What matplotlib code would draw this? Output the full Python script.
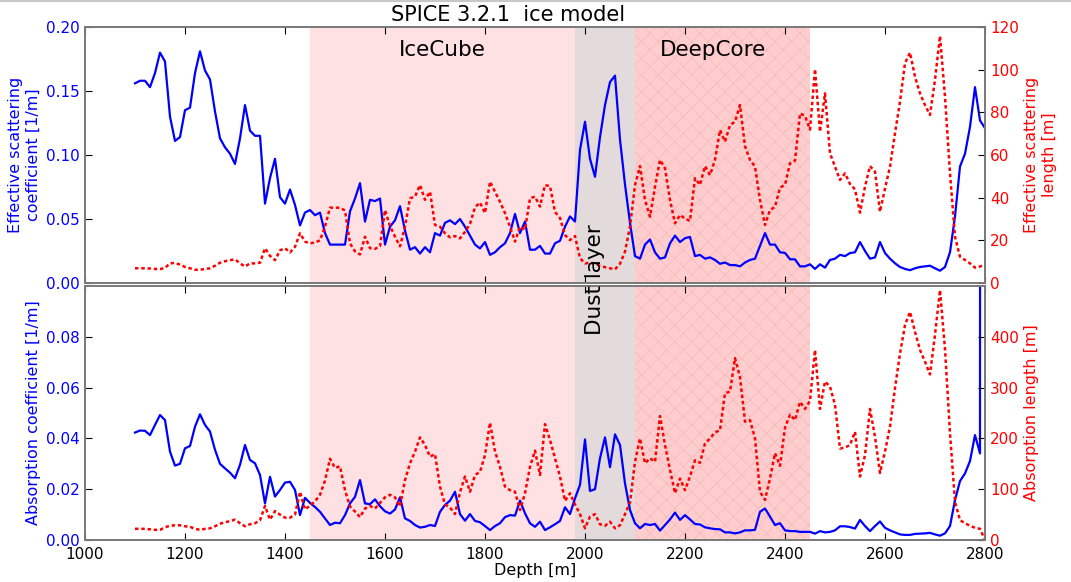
import matplotlib
matplotlib.use("Agg")
import matplotlib.pyplot as plt

# depth grid [m]
depth = list(range(1100, 2810, 10))

# effective scattering coefficient [1/m] (top, blue)
scat_coef = [
    0.156, 0.158, 0.158, 0.153, 0.164, 0.180, 0.173, 0.130, 0.111, 0.114,
    0.135, 0.137, 0.164, 0.181, 0.166, 0.159, 0.134, 0.113, 0.106, 0.101,
    0.093, 0.113, 0.139, 0.119, 0.115, 0.115, 0.062, 0.082, 0.097, 0.067,
    0.062, 0.073, 0.061, 0.045, 0.055, 0.057, 0.053, 0.055, 0.039, 0.030,
    0.030, 0.030, 0.030, 0.056, 0.066, 0.078, 0.048, 0.065, 0.064, 0.066,
    0.030, 0.044, 0.049, 0.060, 0.041, 0.026, 0.028, 0.023, 0.028, 0.024,
    0.039, 0.037, 0.047, 0.049, 0.046, 0.050, 0.044, 0.037, 0.030, 0.027,
    0.032, 0.022, 0.024, 0.028, 0.031, 0.039, 0.054, 0.039, 0.048, 0.026,
    0.026, 0.029, 0.023, 0.023, 0.031, 0.033, 0.044, 0.052, 0.048, 0.104,
    0.126, 0.097, 0.083, 0.114, 0.139, 0.157, 0.162, 0.112, 0.077, 0.047,
    0.021, 0.019, 0.030, 0.034, 0.024, 0.019, 0.020, 0.031, 0.037, 0.032,
    0.035, 0.036, 0.021, 0.022, 0.019, 0.020, 0.018, 0.015, 0.016, 0.014,
    0.014, 0.013, 0.016, 0.018, 0.019, 0.029, 0.039, 0.030, 0.030, 0.024,
    0.0235, 0.0185, 0.0185, 0.013, 0.013, 0.0146, 0.011, 0.0146, 0.012, 0.018,
    0.019, 0.022, 0.021, 0.0234, 0.024, 0.032, 0.025, 0.019, 0.020, 0.032,
    0.0234, 0.019, 0.0154, 0.0125, 0.011, 0.010, 0.0115, 0.0125, 0.013, 0.0135,
    0.0115, 0.0096, 0.0125, 0.024, 0.052, 0.091, 0.101, 0.122, 0.153, 0.127,
    0.121,
]

# effective scattering length [m] (top, red)
scat_len = [
    6.9, 6.9, 6.9, 6.8, 6.6, 6.5, 7.1, 9.2, 9.4, 8.6,
    7.5, 6.9, 6.2, 6.2, 6.6, 6.9, 8.1, 9.5, 10.2, 10.7,
    11.1, 9.2, 7.7, 9.2, 9.2, 9.5, 16.3, 12.7, 10.7, 15.3,
    16.3, 14.3, 17.0, 23.3, 19.4, 18.6, 19.0, 20.0, 26.4, 35.3,
    35.3, 35.3, 34.0, 18.6, 14.8, 13.4, 21.7, 16.3, 16.0, 17.2,
    34.2, 26.7, 21.7, 17.2, 26.4, 39.7, 40.5, 45.9, 39.0, 42.8,
    27.2, 26.4, 23.3, 21.4, 22.0, 20.9, 24.0, 27.7, 35.5, 37.7,
    32.8, 47.5, 42.8, 38.1, 32.8, 26.4, 19.4, 26.4, 25.0, 39.7,
    40.5, 35.8, 45.9, 45.4, 33.3, 30.5, 22.5, 20.1, 22.0, 11.6,
    9.2, 9.5, 9.2, 8.0, 7.4, 6.9, 6.4, 9.0, 14.7, 26.4,
    45.9, 54.8, 38.9, 31.1, 45.1, 57.7, 53.8, 38.9, 28.0, 31.9,
    30.2, 29.1, 49.1, 46.0, 54.8, 50.6, 57.7, 71.7, 66.3, 74.0,
    75.6, 83.4, 64.1, 57.7, 54.6, 38.9, 27.2, 34.2, 35.7, 44.7,
    46.0, 56.1, 57.3, 79.5, 78.3, 71.9, 100.2, 70.9, 88.9, 60.8,
    54.5, 48.3, 51.4, 46.4, 43.9, 33.0, 45.1, 54.8, 52.2, 33.4,
    44.3, 54.5, 70.2, 85.0, 103.0, 108.0, 96.7, 88.9, 83.4, 78.8,
    95.2, 115.8, 87.3, 51.4, 21.7, 12.3, 10.8, 9.2, 7.2, 7.7,
    8.8,
]

# absorption coefficient [1/m] (bottom, blue)
abs_coef = [
    0.0423, 0.0431, 0.0430, 0.0413, 0.0453, 0.0492, 0.0472, 0.0348, 0.0293, 0.0300,
    0.0361, 0.0370, 0.0446, 0.0495, 0.0453, 0.0427, 0.0355, 0.0300, 0.0282, 0.0265,
    0.0243, 0.0296, 0.0374, 0.0315, 0.0302, 0.0256, 0.0144, 0.0249, 0.0171, 0.0197,
    0.0226, 0.0229, 0.0197, 0.0098, 0.0166, 0.0146, 0.0130, 0.0111, 0.0085, 0.0059,
    0.0068, 0.0066, 0.0098, 0.0144, 0.0170, 0.0236, 0.0144, 0.0141, 0.0160, 0.0133,
    0.0113, 0.0104, 0.0120, 0.0168, 0.0085, 0.0075, 0.0059, 0.0049, 0.0052, 0.0059,
    0.0055, 0.0111, 0.0138, 0.0155, 0.0190, 0.0102, 0.0076, 0.0102, 0.0075, 0.0070,
    0.0055, 0.0039, 0.0055, 0.0066, 0.0090, 0.0098, 0.0096, 0.0155, 0.0105, 0.0066,
    0.0052, 0.0072, 0.0039, 0.0050, 0.0062, 0.0075, 0.0129, 0.0102, 0.0164, 0.0217,
    0.0396, 0.0193, 0.0200, 0.0322, 0.0404, 0.0287, 0.0416, 0.0374, 0.0223, 0.0118,
    0.0066, 0.0046, 0.0063, 0.0059, 0.0063, 0.0037, 0.0059, 0.0081, 0.0108, 0.0079,
    0.0098, 0.0081, 0.0063, 0.0061, 0.0050, 0.0046, 0.0043, 0.0042, 0.0030, 0.0030,
    0.0026, 0.0030, 0.0038, 0.0038, 0.0040, 0.0111, 0.0124, 0.0092, 0.0059, 0.0066,
    0.0038, 0.0035, 0.0035, 0.0032, 0.0032, 0.0032, 0.0025, 0.0035, 0.0030, 0.0032,
    0.0038, 0.0054, 0.0054, 0.0051, 0.0045, 0.0079, 0.0055, 0.0035, 0.0055, 0.0073,
    0.0048, 0.0038, 0.0030, 0.0022, 0.0020, 0.0020, 0.0024, 0.0025, 0.0026, 0.0028,
    0.0022, 0.0017, 0.0026, 0.0055, 0.0157, 0.0232, 0.0262, 0.0311, 0.0413, 0.0341,
    5.0,
]

# absorption length [m] (bottom, red)
abs_len = [
    22, 22, 22, 21, 20, 20, 25, 28, 29, 29,
    27, 26, 22, 20, 22, 23, 27, 32, 35, 37,
    40, 33, 27, 31, 33, 39, 67, 40, 57, 50,
    44, 44, 50, 95, 60, 68, 76, 89, 117, 160,
    142, 145, 98, 66, 56, 45, 62, 67, 62, 73,
    84, 89, 84, 66, 118, 151, 174, 202, 187, 164,
    169, 105, 70, 64, 51, 94, 125, 95, 128, 134,
    167, 231, 174, 144, 105, 98, 95, 59, 92, 144,
    176, 128, 228, 197, 161, 125, 77, 92, 70, 51,
    23, 46, 51, 31, 28, 36, 23, 29, 51, 74,
    154, 200, 151, 161, 154, 244, 187, 138, 92, 121,
    98, 125, 157, 152, 190, 200, 212, 216, 289, 292,
    358, 321, 233, 236, 200, 95, 79, 121, 171, 146,
    221, 247, 236, 272, 258, 274, 374, 258, 312, 302,
    266, 180, 182, 187, 213, 125, 167, 258, 203, 132,
    174, 223, 299, 367, 423, 449, 410, 374, 351, 326,
    404, 492, 376, 210, 75, 39, 33, 28, 24, 22,
    0.2,
]

# detector regions
icecube = (1450, 1980)
dust = (1980, 2100)
deepcore = (2100, 2450)

plt.rcParams["hatch.linewidth"] = 0.5

W, H = 1071, 582
fig = plt.figure(figsize=(W / 100, H / 100), dpi=100)
ax1 = fig.add_axes([85 / W, 1 - 283 / H, 900 / W, 256 / H])
ax2 = fig.add_axes([85 / W, 1 - 540 / H, 900 / W, 254 / H], sharex=ax1)

for ax in (ax1, ax2):
    ax.axvspan(*icecube, facecolor="#ffe1e3", edgecolor="none", zorder=0)
    ax.axvspan(*dust, facecolor="#e2dadb", edgecolor="none", zorder=0)
    ax.axvspan(*deepcore, facecolor="#ffcdcd", edgecolor="#f3b9b9", hatch="xx",
               linewidth=0, zorder=0)

dotted = (0, (1.4, 1.1))

# top: scattering
ax1.plot(depth, scat_coef, color="#0000ff", lw=1.6)
ax1.set_ylim(0, 0.2)
ax1.set_yticks([0.0, 0.05, 0.10, 0.15, 0.20])
ax1.set_ylabel("Effective scattering\ncoefficient [1/m]", color="#0000ff", fontsize=11.5)
ax1t = ax1.twinx()
ax1t.plot(depth, scat_len, color="#ff0000", lw=1.8, linestyle=dotted)
ax1t.set_ylim(0, 120)
ax1t.set_yticks(range(0, 121, 20))
ax1t.set_ylabel("Effective scattering\nlength [m]", color="#ff0000", fontsize=11.5)

# bottom: absorption
ax2.plot(depth, abs_coef, color="#0000ff", lw=1.6)
ax2.set_ylim(0, 0.1)
ax2.set_yticks([0.0, 0.02, 0.04, 0.06, 0.08])
ax2.set_ylabel("Absorption coefficient [1/m]", color="#0000ff", fontsize=11.5)
ax2t = ax2.twinx()
ax2t.plot(depth, abs_len, color="#ff0000", lw=1.8, linestyle=dotted)
ax2t.set_ylim(0, 500)
ax2t.set_yticks(range(0, 401, 100))
ax2t.set_ylabel("Absorption length [m]", color="#ff0000", fontsize=11.5)

ax2.set_xlim(1000, 2800)
ax2.set_xticks(range(1000, 2801, 200))
ax2.set_xlabel("Depth [m]", fontsize=11.5, labelpad=1)
ax1.tick_params(axis="x", labelbottom=False)

for ax in (ax1, ax2):
    ax.tick_params(axis="x", direction="in", top=True, length=5, labelsize=11, pad=5)
    ax.tick_params(axis="y", direction="in", right=False, length=5, labelsize=11,
                   labelcolor="#0000ff")
for ax in (ax1t, ax2t):
    ax.tick_params(axis="y", direction="in", length=5, labelsize=11, labelcolor="#ff0000")
for ax in (ax1, ax2, ax1t, ax2t):
    for sp in ax.spines.values():
        sp.set_color("#7a7a7a")
        sp.set_linewidth(1.3)

ax1.text(1715, 0.182, "IceCube", fontsize=15.5, ha="center", va="center")
ax1.text(2255, 0.182, "DeepCore", fontsize=15.5, ha="center", va="center")
fig.text((85 + (2020 - 1000) / 2) / W, 1 - 280 / H, "Dust layer", fontsize=15.5,
         rotation=90, ha="center", va="center", zorder=10)
fig.text(508 / W, 1 - 15 / H, "SPICE 3.2.1  ice model", fontsize=15, ha="center", va="center")
fig.add_artist(plt.Line2D([0, 1], [0.998, 0.998], color="#c8c8c8", lw=1.5))

fig.savefig("out.png", dpi=100)
